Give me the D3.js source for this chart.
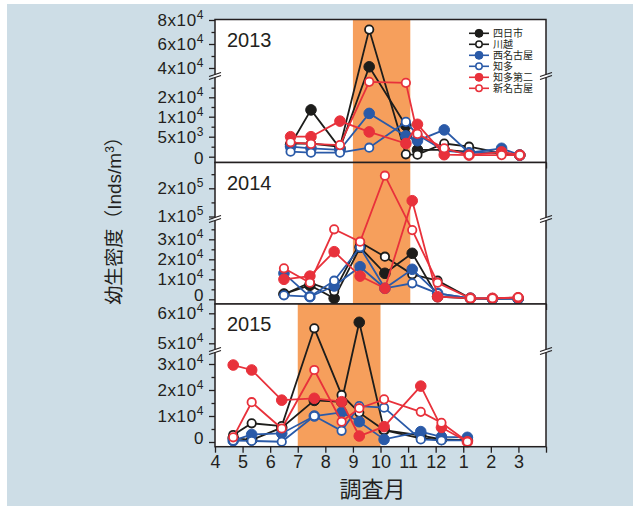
<!DOCTYPE html>
<html>
<head>
<meta charset="utf-8">
<script src="https://cdn.jsdelivr.net/npm/d3@7"></script>
<style>
body { margin: 0; background: #fff; }
text { font-family: "Liberation Sans", Arial, "Noto Sans CJK JP", sans-serif; fill: #231f20; }
</style>
</head>
<body>
<div id="chart"></div>
<script>
//width and height
var chart_width = 638;
var chart_height = 506;

// stations in legend order
var stations = ['四日市', '川越', '西名古屋', '知多', '知多第二', '新名古屋'];
var colors = ['#1d1d1b', '#1d1d1b', '#2a5aa8', '#2a5aa8', '#e8313b', '#e8313b'];
var filled = [true, false, true, false, true, false];

// month ticks (13,14,15 = Jan,Feb,Mar of next year)
var month_ticks = [4, 5, 6, 7, 8, 9, 10, 11, 12, 13, 14, 15, 16];
var month_labels = ['4', '5', '6', '7', '8', '9', '10', '11', '12', '1', '2', '3', ''];

// sampling dates (fractional month) per year
var months2013 = [6.74, 7.48, 8.53, 9.59, 10.92, 11.34, 12.31, 13.21, 14.39, 15.05];
var months2014 = [6.5, 7.44, 8.32, 9.26, 10.16, 11.15, 12.07, 13.26, 14.06, 14.99];
var months2015 = [4.66, 5.33, 6.42, 7.6, 8.59, 9.23, 10.13, 11.46, 12.21, 13.15];

// larval density (inds/m3), rows follow stations order
var dens2013 = [
    [3000, 13500, 2100, 41000, 7800, 1700, 1700, 1200, 900, 400],
    [3300, 3300, 2500, 72000, 600, 500, 3300, 2500, 900, 400],
    [2500, 2100, 1700, 11700, 5200, 4000, 6700, 1000, 2100, 400],
    [1250, 1000, 1000, 2250, 8700, 5500, 1500, 900, 1200, 200],
    [5000, 5000, 8900, 6200, 3300, 8100, 500, 400, 1200, 400],
    [3600, 3200, 2900, 28000, 27500, 5700, 2100, 400, 400, 400]
];
var dens2014 = [
    [2650, 7000, 500, 26000, 13000, 23000, 1300, 500, 300, 300],
    [2500, 8300, 4000, 28500, 21300, 12500, 9300, 500, 300, 800],
    [13000, 1300, 6650, 16300, 5500, 15000, 3000, 500, 300, 300],
    [2000, 1300, 9300, 26000, 5500, 8000, 3000, 500, 300, 300],
    [10000, 11600, 23800, 11600, 5500, 156000, 1300, 500, 500, 800],
    [15500, 8300, 35000, 28800, 244700, 34600, 8300, 500, 500, 1000]
];
var dens2015 = [
    [1500, 800, 5500, 16000, 15500, 57000, 4600, 2500, 1000, 700],
    [2700, 7200, 6100, 55000, 18100, 11300, 4600, 1400, 800, 800],
    [500, 2900, 3300, 10000, 11400, 7800, 1000, 4000, 2000, 1800],
    [500, 400, 100, 10000, 4300, 13800, 13200, 1000, 600, 600],
    [29600, 27700, 16100, 16800, 15500, 2300, 5900, 21500, 5600, 100],
    [1800, 15300, 5200, 27700, 7800, 13000, 16400, 11600, 7400, 100]
];

// y ticks per panel
var ticks2013 = [0, 5000, 10000, 20000, 40000, 60000, 80000];
var labels2013 = ['0', '5x10^3', '1x10^4', '2x10^4', '4x10^4', '6x10^4', '8x10^4'];
var minor2013 = [2500, 7500, 15000, 25000, 50000, 70000];
var ticks2014 = [0, 10000, 20000, 30000, 100000, 200000];
var labels2014 = ['0', '1x10^4', '2x10^4', '3x10^4', '1x10^5', '2x10^5'];
var minor2014 = [5000, 15000, 25000, 35000, 150000, 250000];
var ticks2015 = [0, 10000, 20000, 30000, 50000, 60000];
var labels2015 = ['0', '1x10^4', '2x10^4', '3x10^4', '5x10^4', '6x10^4'];
var minor2015 = [5000, 15000, 25000, 55000];

// spawning season (shaded), in months
var season2013 = [9, 11.08];
var season2014 = [9, 11.08];
var season2015 = [7, 10];

var plot_left = 215, plot_right = 546;

// broken axes -> piecewise linear scales
var panels = [
    {year: '2013', months: months2013, dens: dens2013, ticks: ticks2013, labels: labels2013, minor: minor2013,
     season: season2013, top: 19.5, bottom: 162.5, brk: 75, zero_shift: 1,
     y: d3.scaleLinear().domain([0, 5000, 10000, 20000, 30000, 40000, 82500]).range([156.7, 136.7, 116.7, 97.3, 78, 68, 17])},
    {year: '2014', months: months2014, dens: dens2014, ticks: ticks2014, labels: labels2014, minor: minor2014,
     season: season2014, top: 162.5, bottom: 304, brk: 218, zero_shift: -4,
     y: d3.scaleLinear().domain([0, 35000, 100000, 290000]).range([299.3, 229.3, 216.5, 162.9])},
    {year: '2015', months: months2015, dens: dens2015, ticks: ticks2015, labels: labels2015, minor: minor2015,
     season: season2015, top: 304, bottom: 446.7, brk: 350, zero_shift: -3.5,
     y: d3.scaleLinear().domain([0, 30000, 50000, 63000]).range([442, 364, 343.3, 304.3])}
];

var x = d3.scaleLinear().domain([4, 16]).range([plot_left, plot_right]);

var svg = d3.select("#chart")
            .append("svg")
            .attr("width", chart_width)
            .attr("height", chart_height);

// page background
svg.append('rect')
    .attr('x', 7).attr('y', 4)
    .attr('width', 626).attr('height', 502)
    .attr('fill', '#cddde6');

var sup_label = function(sel, str) {
    var parts = str.split('^');
    sel.text(null);
    sel.append('tspan').text(parts[0]);
    if (parts[1]) {
        sel.append('tspan')
            .attr('font-size', 12)
            .attr('dy', -7)
            .text(parts[1]);
    }
};

panels.forEach(function(p, pi) {
    var g = svg.append('g');
    var y = p.y;

    g.append('rect')
        .attr('x', plot_left).attr('y', p.top)
        .attr('width', plot_right - plot_left).attr('height', p.bottom - p.top)
        .attr('fill', '#fff');

    // shaded season
    g.append('rect')
        .attr('x', x(p.season[0])).attr('y', p.top)
        .attr('width', x(p.season[1]) - x(p.season[0]))
        .attr('height', p.bottom - p.top)
        .attr('fill', '#f69f5c');

    // series
    var line = d3.line()
        .x(function(d) { return x(d[0]); })
        .y(function(d) { return y(d[1]); });

    p.dens.forEach(function(vals, si) {
        var pts = p.months.map(function(m, i) { return [m, vals[i]]; });
        var sg = g.append('g');
        sg.append('path')
            .datum(pts)
            .attr('d', line)
            .attr('fill', 'none')
            .attr('stroke', colors[si])
            .attr('stroke-width', 1.8);
        sg.selectAll('circle')
            .data(pts)
            .enter()
            .append('circle')
            .attr('cx', function(d) { return x(d[0]); })
            .attr('cy', function(d) { return y(d[1]); })
            .attr('r', filled[si] ? 5.3 : 4.2)
            .attr('fill', filled[si] ? colors[si] : '#fff')
            .attr('stroke', colors[si])
            .attr('stroke-width', filled[si] ? 1 : 1.8);
    });

    // frame
    g.append('rect')
        .attr('x', plot_left).attr('y', p.top)
        .attr('width', plot_right - plot_left).attr('height', p.bottom - p.top)
        .attr('fill', 'none')
        .attr('stroke', '#231f20')
        .attr('stroke-width', 1.5);

    // y axis, major + minor
    var yaxis = g.append('g')
        .attr('transform', 'translate(' + plot_left + ',0)')
        .call(d3.axisLeft(y).tickValues(p.ticks).tickSize(6).tickSizeOuter(0).tickPadding(5));
    yaxis.select('.domain').remove();
    yaxis.selectAll('.tick line').attr('stroke', '#231f20').attr('stroke-width', 1.3);
    yaxis.selectAll('.tick text')
        .attr('font-size', 17)
        .attr('letter-spacing', 0.6)
        .attr('fill', '#231f20')
        .attr('y', function(d) { return d === 0 ? p.zero_shift : 0; })
        .each(function(d, i) { sup_label(d3.select(this), p.labels[i]); });

    var yminor = g.append('g')
        .attr('transform', 'translate(' + plot_left + ',0)')
        .call(d3.axisLeft(y).tickValues(p.minor).tickSize(3.5).tickSizeOuter(0).tickFormat(''));
    yminor.select('.domain').remove();
    yminor.selectAll('.tick line').attr('stroke', '#231f20').attr('stroke-width', 1.3);

    // x axis
    var xaxis = g.append('g')
        .attr('transform', 'translate(0,' + p.bottom + ')')
        .call(d3.axisBottom(x).tickValues(month_ticks).tickSize(6).tickSizeOuter(0)
            .tickFormat(function(d, i) { return pi === 2 ? month_labels[i] : ''; }));
    xaxis.select('.domain').remove();
    xaxis.selectAll('.tick line').attr('stroke', '#231f20').attr('stroke-width', 1.3);
    xaxis.selectAll('.tick text').attr('font-size', 18).attr('fill', '#231f20');

    // axis break marks
    [plot_left, plot_right].forEach(function(bx) {
        var b = p.brk;
        g.append('polygon')
            .attr('points', [[bx - 1.6, b + 0.1], [bx + 1.6, b - 1], [bx + 1.6, b + 2], [bx - 1.6, b + 3.1]].join(' '))
            .attr('fill', '#fff');
        g.append('line')
            .attr('x1', bx - 6).attr('y1', b + 1.5).attr('x2', bx + 6).attr('y2', b - 2.5)
            .attr('stroke', '#231f20').attr('stroke-width', 1.3);
        g.append('line')
            .attr('x1', bx - 6).attr('y1', b + 4.5).attr('x2', bx + 6).attr('y2', b + 0.5)
            .attr('stroke', '#231f20').attr('stroke-width', 1.3);
    });

    // year label
    g.append('text')
        .attr('x', 227)
        .attr('y', p.top + 27)
        .attr('font-size', 20)
        .text(p.year);
});

// legend
var legend = svg.append('g');
stations.forEach(function(name, i) {
    var ly = 33.3 + i * 11;
    legend.append('line')
        .attr('x1', 469).attr('x2', 489)
        .attr('y1', ly).attr('y2', ly)
        .attr('stroke', colors[i]).attr('stroke-width', 1.6);
    legend.append('circle')
        .attr('cx', 479).attr('cy', ly)
        .attr('r', filled[i] ? 4 : 3.2)
        .attr('fill', filled[i] ? colors[i] : '#fff')
        .attr('stroke', colors[i])
        .attr('stroke-width', filled[i] ? 1 : 1.5);
    legend.append('text')
        .attr('x', 493).attr('y', ly)
        .attr('dy', '0.36em')
        .attr('font-size', 10)
        .text(name);
});

// axis titles
svg.append('text')
    .attr('x', 372.5).attr('y', 497)
    .attr('text-anchor', 'middle')
    .attr('font-size', 22)
    .style('font-family', '"Noto Sans CJK JP", sans-serif')
    .text('調査月');

var ytitle = svg.append('text')
    .attr('transform', 'translate(121,216) rotate(-90)')
    .attr('text-anchor', 'middle')
    .attr('font-size', 19);
ytitle.append('tspan').text('幼生密度（Inds/m');
ytitle.append('tspan').attr('font-size', 12).attr('dy', -7).text('3');
ytitle.append('tspan').attr('dy', 7).text('）');
</script>
</body>
</html>
